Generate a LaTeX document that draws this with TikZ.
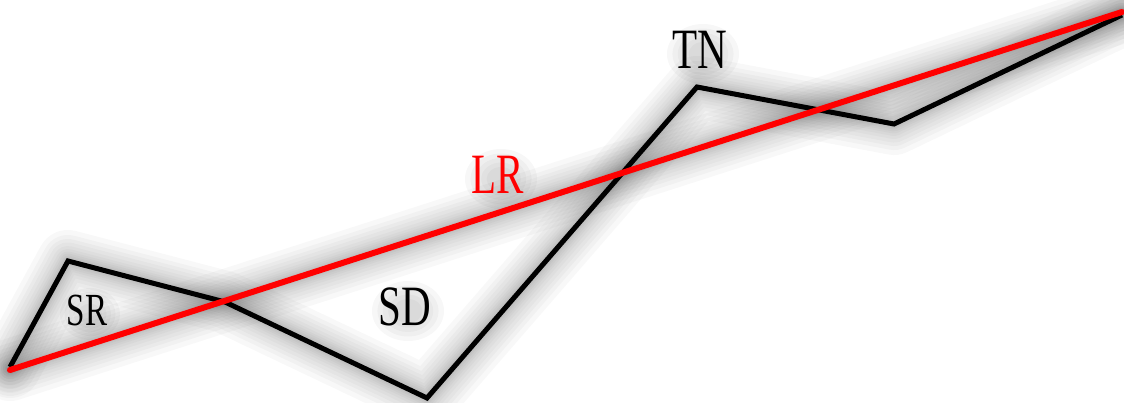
\documentclass[tikz,border=0pt]{standalone}
\usepackage{fontspec}
\setmainfont{Liberation Serif}
\begin{document}
\begin{tikzpicture}[x=1pt,y=-1pt,
  shade layer/.style={draw=black,opacity=0.028,line width=#1,line join=round,line cap=round},
  blob/.style={fill=black,opacity=0.03},
  lbl/.style={inner sep=0pt,font=\fontsize{57}{60}\selectfont},
  lbls/.style={inner sep=0pt,font=\fontsize{46}{50}\selectfont},
  blk/.style={draw=black,line width=5pt,line join=miter},
  redl/.style={draw=red,line width=6pt,line cap=round}]
\useasboundingbox (0,0) rectangle (1124,403);
\coordinate (p0) at (10,367);
\coordinate (p1) at (68,261);
\coordinate (p2) at (225,302);
\coordinate (p3) at (427,398);
\coordinate (p4) at (697,87);
\coordinate (p5) at (894,124);
\coordinate (p6) at (1122,15);
\coordinate (r0) at (10,370);
\coordinate (r1) at (1122,12);
% shadows of lines
\foreach \w in {62,52,44,37,30,24,19,15,11,8}{
  \draw[shade layer=\w pt, shift={(3,4)}] (p0) -- (p1) -- (p2) -- (p3) -- (p4) -- (p5) -- (p6);
  \draw[shade layer=\w pt, shift={(3,4)}] (r0) -- (r1);
}
% soft shadows behind labels
\foreach \r in {1.0,0.85,0.7,0.55,0.4}{
  \fill[blob] (90,314) ellipse ({30*\r} and {26*\r});
  \fill[blob] (408,311) ellipse ({36*\r} and {30*\r});
  \fill[blob] (703,54) ellipse ({36*\r} and {30*\r});
  \fill[blob] (501,179) ellipse ({36*\r} and {30*\r});
}
% main lines
\draw[blk] (p0) -- (p1) -- (p2) -- (p3) -- (p4) -- (p5) -- (p6);
\draw[redl] (r0) -- (r1);
% labels
\node[lbls] (sr) at (87,310) {\scalebox{0.72}[1]{SR}};
\node[lbl] (sd) at (405,307) {\scalebox{0.72}[1]{SD}};
\node[lbl] (tn) at (700,50) {\scalebox{0.72}[1]{TN}};
\node[lbl,text=red] (lr) at (498,175) {\scalebox{0.72}[1]{LR}};
\end{tikzpicture}
\end{document}
